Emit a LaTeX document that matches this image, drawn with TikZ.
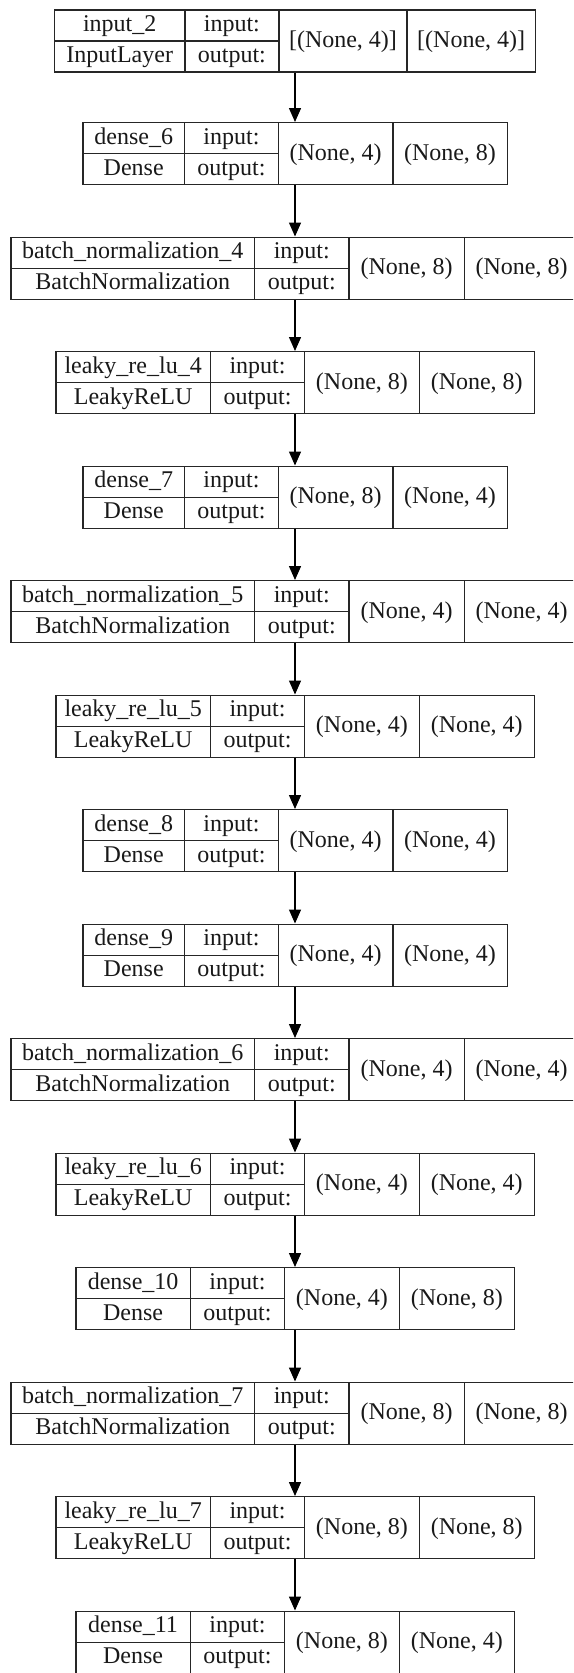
\documentclass[tikz,border=0pt]{standalone}
\usepackage{fontspec}
\setmainfont{Liberation Serif}
\usetikzlibrary{arrows.meta}
\tikzset{
  outer/.style={draw=black!85, line width=1.4pt, rectangle, inner sep=0pt, minimum height=62pt},
  cell/.style={draw=black!85, line width=1.4pt},
  lbl/.style={anchor=base, inner sep=0pt, font=\fontsize{24}{28}\selectfont, text=black!90},
  arr/.style={draw=black, line width=1.4pt, -{Triangle[length=14pt,width=12pt]}}
}
\newcommand\settype[5]{\def\xa{#1}\def\xb{#2}\def\xc{#3}\def\xd{#4}\def\xe{#5}}
\newcommand\typeIN{\settype{54.6}{184.8}{279}{407}{535.4}}
\newcommand\typeDA{\settype{82.8}{184.6}{278.3}{392.8}{507.2}}
\newcommand\typeBN{\settype{11}{254.5}{349}{464.3}{579}}
\newcommand\typeLK{\settype{55.8}{210.5}{304.6}{419.3}{534.2}}
\newcommand\typeDB{\settype{75.8}{190.4}{284.5}{399.4}{514.2}}
% #1 name, #2 top, #3 title, #4 class, #5 in shape, #6 out shape
\newcommand\layer[6]{%
  \node[outer, minimum width={\xe-\xa}] (#1) at ({(\xa+\xe)/2},{#2+31}) {};
  \draw[cell] (\xb,#2) -- (\xb,{#2+62});
  \draw[cell] (\xc,#2) -- (\xc,{#2+62});
  \draw[cell] (\xd,#2) -- (\xd,{#2+62});
  \draw[cell] (\xa,{#2+31}) -- (\xc,{#2+31});
  \node[lbl] (#1-t) at ({(\xa+\xb)/2},{#2+21.5}) {#3};
  \node[lbl] (#1-c) at ({(\xa+\xb)/2},{#2+52.5}) {#4};
  \node[lbl] (#1-i) at ({(\xb+\xc)/2},{#2+21.5}) {input:};
  \node[lbl] (#1-o) at ({(\xb+\xc)/2},{#2+52.5}) {output:};
  \node[lbl] (#1-s) at ({(\xc+\xd)/2},{#2+37.5}) {#5};
  \node[lbl] (#1-r) at ({(\xd+\xe)/2},{#2+37.5}) {#6};
}
\begin{document}
\begin{tikzpicture}[x=1pt,y=-1pt]
\useasboundingbox (0,0) rectangle (573,1673);
\clip (0,0) rectangle (573,1673);
\fill[white] (0,0) rectangle (573,1673);
\typeIN\layer{L1}{9.8}{input\_2}{InputLayer}{[(None, 4)]}{[(None, 4)]}
\typeDA\layer{L2}{122.7}{dense\_6}{Dense}{(None, 4)}{(None, 8)}
\typeBN\layer{L3}{237.2}{batch\_normalization\_4}{BatchNormalization}{(None, 8)}{(None, 8)}
\typeLK\layer{L4}{351.7}{leaky\_re\_lu\_4}{LeakyReLU}{(None, 8)}{(None, 8)}
\typeDA\layer{L5}{466.2}{dense\_7}{Dense}{(None, 8)}{(None, 4)}
\typeBN\layer{L6}{580.7}{batch\_normalization\_5}{BatchNormalization}{(None, 4)}{(None, 4)}
\typeLK\layer{L7}{695.2}{leaky\_re\_lu\_5}{LeakyReLU}{(None, 4)}{(None, 4)}
\typeDA\layer{L8}{809.7}{dense\_8}{Dense}{(None, 4)}{(None, 4)}
\typeDA\layer{L9}{924.2}{dense\_9}{Dense}{(None, 4)}{(None, 4)}
\typeBN\layer{L10}{1038.7}{batch\_normalization\_6}{BatchNormalization}{(None, 4)}{(None, 4)}
\typeLK\layer{L11}{1153.2}{leaky\_re\_lu\_6}{LeakyReLU}{(None, 4)}{(None, 4)}
\typeDB\layer{L12}{1267.7}{dense\_10}{Dense}{(None, 4)}{(None, 8)}
\typeBN\layer{L13}{1382.2}{batch\_normalization\_7}{BatchNormalization}{(None, 8)}{(None, 8)}
\typeLK\layer{L14}{1496.7}{leaky\_re\_lu\_7}{LeakyReLU}{(None, 8)}{(None, 8)}
\typeDB\layer{L15}{1611.2}{dense\_11}{Dense}{(None, 8)}{(None, 4)}
\foreach \a/\b in {L1/L2,L2/L3,L3/L4,L4/L5,L5/L6,L6/L7,L7/L8,L8/L9,L9/L10,L10/L11,L11/L12,L12/L13,L13/L14,L14/L15}
  \draw[arr] (\a.south) -- (\b.north);
\end{tikzpicture}
\end{document}
